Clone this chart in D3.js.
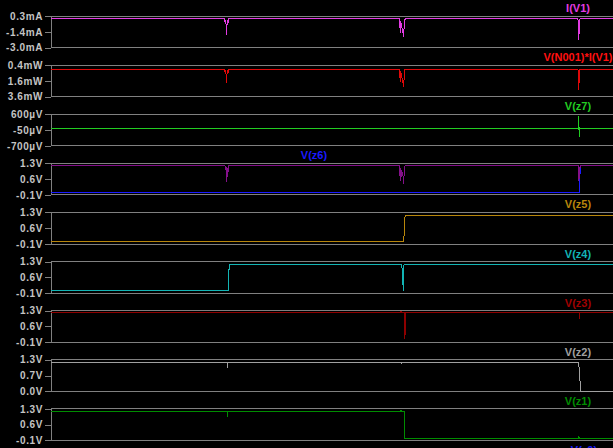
<!DOCTYPE html>
<html>
<head>
<meta charset="utf-8">
<script src="https://cdn.jsdelivr.net/npm/d3@7"></script>
<style>
  html, body { margin: 0; padding: 0; background: #000; overflow: hidden; }
  svg { display: block; }
</style>
</head>
<body>
<svg id="chart" width="613" height="448"></svg>
<script>
// ---------- DATA ----------
const timeDomain = [0, 3.19]; // µs

const paneLabels = [
  ["0.3mA", "-1.4mA", "-3.0mA"],
  ["0.4mW", "1.6mW", "3.6mW"],
  ["600µV", "-50µV", "-700µV"],
  ["1.3V", "0.6V", "-0.1V"],
  ["1.3V", "0.6V", "-0.1V"],
  ["1.3V", "0.6V", "-0.1V"],
  ["1.3V", "0.6V", "-0.1V"],
  ["1.3V", "0.7V", "0.0V"],
  ["1.3V", "0.6V", "-0.1V"]
];
const paneDomains = [
  [-3.0, 0.3], [-3.6, 0.4], [-700, 600], [-0.1, 1.3], [-0.1, 1.3],
  [-0.1, 1.3], [-0.1, 1.3], [0.0, 1.3], [-0.1, 1.3]
];

const iV1 = [[0,0],[0.985,0],[0.988,-0.3],[0.992,-0.1],[0.997,-1.7],[1.0,-0.2],[1.006,-0.35],[1.01,0],
  [1.979,0],[1.982,-1.45],[1.985,-0.2],[1.99,-0.8],[1.996,-1.2],[2.002,-1.9],[2.006,-0.1],[2.012,0],
  [2.99,0],[2.993,-0.3],[2.996,-2.2],[2.999,-0.4],[3.003,0],[3.19,0]];
const pV1 = [[0,-0.1],[0.985,-0.1],[0.988,-0.45],[0.992,-0.2],[0.997,-1.9],[1.0,-0.3],[1.006,-0.5],[1.01,-0.1],
  [1.979,-0.1],[1.982,-1.8],[1.985,-0.3],[1.99,-1.0],[1.996,-1.5],[2.002,-2.4],[2.006,-0.2],[2.012,-0.1],
  [2.99,-0.1],[2.993,-0.4],[2.996,-2.75],[2.999,-0.5],[3.003,-0.1],[3.19,-0.1]];
const vZ7 = [[0,0],[2.993,0],[2.995,540],[2.998,-320],[3.0,80],[3.003,0],[3.19,0]];
const vZ6 = [[0,0],[3.0,0],[3.004,1.2],[3.19,1.2]];
const vPurple = [[0,1.2],[0.987,1.2],[0.99,1.05],[0.995,1.15],[0.998,0.49],[1.001,1.1],[1.006,1.0],[1.01,1.2],
  [1.979,1.2],[1.982,0.5],[1.986,1.1],[1.99,0.7],[1.996,0.9],[2.002,0.39],[2.006,1.15],[2.012,1.2],
  [2.993,1.2],[2.996,0.5],[3.0,0.9],[3.004,1.2],[3.19,1.2]];
const vZ5 = [[0,0],[2.002,0],[2.004,0.3],[2.01,1.17],[3.19,1.17]];
const vZ4 = [[0,0],[1.005,0],[1.006,0.92],[1.011,0.95],[1.012,1.18],[1.991,1.18],[1.993,0.95],
  [1.996,0.9],[1.999,0.0],[2.002,1.0],[2.004,1.18],[3.19,1.18]];
const vZ3 = [[0,1.2],[1.985,1.2],[1.987,1.28],[1.99,1.2],[2.007,1.2],[2.009,0.04],[2.012,1.2],
  [2.997,1.2],[2.999,0.94],[3.001,1.2],[3.19,1.2]];
const vZ2 = [[0,1.2],[0.999,1.2],[1.001,0.98],[1.003,1.2],[1.985,1.2],[1.987,1.14],[1.99,1.2],
  [2.996,1.2],[2.998,0.85],[3.008,0],[3.19,0]];
const vZ1 = [[0,1.19],[0.999,1.19],[1.001,0.95],[1.003,1.19],[1.985,1.19],[1.987,1.25],[1.99,1.19],
  [2.004,1.19],[2.006,0],[2.994,0],[2.996,0.07],[2.998,0],[3.19,0]];

const seriesNames = ["I(V1)", "V(N001)*I(V1)", "V(z7)", "V(z6)", "V(z5)", "V(z4)", "V(z3)", "V(z2)", "V(z1)"];
const seriesColors = ["#e33be3", "#e00808", "#22cc22", "#1a1aff", "#b8860b", "#12b4b4", "#8e0000", "#a0a0a0", "#008c00"];

// ---------- LAYOUT ----------
const svg = d3.select("#chart");
svg.append("rect").attr("width", 613).attr("height", 448).attr("fill", "#000");

const x = d3.scaleLinear().domain(timeDomain).range([51, 613]);
const gridColor = "#808080";
const paneTop = i => 16 + 49.1 * i;
const paneH = 31.6;

const panes = [
  { traces: [{ data: iV1, color: seriesColors[0] }], labels: [{ text: seriesNames[0], x: 578, color: seriesColors[0] }] },
  { traces: [{ data: pV1, color: seriesColors[1] }], labels: [{ text: seriesNames[1], x: 578, color: "#ff1010" }] },
  { traces: [{ data: vZ7, color: seriesColors[2] }], labels: [{ text: seriesNames[2], x: 578, color: seriesColors[2] }] },
  { traces: [{ data: vZ6, color: seriesColors[3] }, { data: vPurple, color: "#84108a" }], labels: [{ text: seriesNames[3], x: 314, color: seriesColors[3] }] },
  { traces: [{ data: vZ5, color: seriesColors[4] }], labels: [{ text: seriesNames[4], x: 578, color: seriesColors[4] }] },
  { traces: [{ data: vZ4, color: seriesColors[5] }], labels: [{ text: seriesNames[5], x: 578, color: seriesColors[5] }] },
  { traces: [{ data: vZ3, color: seriesColors[6] }], labels: [{ text: seriesNames[6], x: 578, color: "#a00000" }] },
  { traces: [{ data: vZ2, color: seriesColors[7] }], labels: [{ text: seriesNames[7], x: 578, color: seriesColors[7] }] },
  { traces: [{ data: vZ1, color: seriesColors[8] }], labels: [{ text: seriesNames[8], x: 578, color: seriesColors[8] }] }
];

panes.forEach((p, i) => {
  const top = paneTop(i), bot = top + paneH;
  const dom = paneDomains[i];
  const y = d3.scaleLinear().domain(dom).range([bot, top]);
  const g = svg.append("g");

  // series labels
  p.labels.forEach(l => {
    g.append("text")
      .attr("x", l.x).attr("y", top - 4)
      .attr("text-anchor", "middle")
      .attr("fill", l.color)
      .style("font", "bold 11px 'Liberation Sans', Arial, sans-serif")
      .text(l.text);
  });

  // borders
  [top, bot].forEach(yy => {
    g.append("line").attr("x1", 51).attr("x2", 613).attr("y1", yy).attr("y2", yy)
      .attr("stroke", gridColor).attr("stroke-width", 1).attr("shape-rendering", "crispEdges");
  });

  // axis
  const tv = [dom[1], (dom[0] + dom[1]) / 2, dom[0]];
  const axis = d3.axisLeft(y).tickValues(tv)
    .tickFormat((d, k) => paneLabels[i][k])
    .tickSize(6).tickSizeOuter(0).tickPadding(2);
  const ag = g.append("g").attr("transform", "translate(51,0)").call(axis);
  ag.select(".domain").attr("stroke", gridColor).attr("shape-rendering", "crispEdges");
  ag.selectAll(".tick line").attr("stroke", gridColor).attr("shape-rendering", "crispEdges");
  ag.selectAll(".tick text").attr("fill", "#c4c4c4")
    .style("font", "bold 10px 'Liberation Sans', Arial, sans-serif")
    .style("letter-spacing", "0.6px");

  // traces
  const line = d3.line().x(d => x(d[0])).y(d => y(d[1]));
  p.traces.forEach(t => {
    g.append("path").attr("d", line(t.data))
      .attr("fill", "none").attr("stroke", t.color).attr("stroke-width", 1)
      .attr("shape-rendering", "crispEdges");
  });
});

// partially visible label of the next (cropped) pane
svg.append("text")
  .attr("x", 584).attr("y", paneTop(9) - 4)
  .attr("text-anchor", "middle").attr("fill", "#1a1aff")
  .style("font", "bold 11px 'Liberation Sans', Arial, sans-serif")
  .text("V(z0)");
</script>
</body>
</html>
